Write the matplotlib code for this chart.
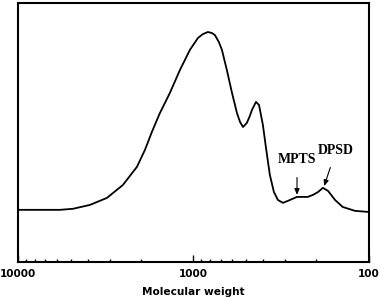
import numpy as np
import matplotlib
matplotlib.use("Agg")
import matplotlib.pyplot as plt
from matplotlib.ticker import LogLocator, NullFormatter, FixedLocator, FixedFormatter

# GPC trace: molecular weight vs detector signal (a.u.)
mol_weight = [10000, 7494, 5762, 4859, 3888, 3111, 2522, 2098, 1890, 1724,
              1552, 1361, 1194, 1047, 942, 883, 827, 785, 754, 716,
              688, 645, 603, 565, 543, 522, 496, 477, 464, 440,
              423, 402, 386, 367, 348, 330, 309, 289, 257, 223,
              208, 195, 183, 171, 156, 141, 120, 101, 100]
signal = [20.1, 20.1, 20.1, 20.5, 22.0, 24.7, 29.7, 36.7, 43.2, 50.2,
          57.5, 65.3, 74.1, 81.9, 86.5, 88.0, 88.8, 88.4, 87.6, 84.9,
          81.9, 74.1, 65.3, 57.5, 54.1, 52.1, 53.7, 56.4, 58.7, 61.8,
          60.6, 52.9, 44.0, 33.6, 27.0, 23.9, 22.8, 23.6, 25.1, 25.1,
          25.9, 27.0, 28.6, 27.4, 23.9, 21.2, 19.7, 19.3, 19.3]

tick_vals = [10000, 1000, 100]
tick_labels = ["10000", "1000", "100"]

# peak labels: (text, text centre, arrow tip)
peaks = [("MPTS", (257, 39.4), (257, 25.9)),
         ("DPSD", (154, 43.1), (180, 29.3))]

fig = plt.figure(figsize=(3.8, 3.01), dpi=100)
ax = fig.add_axes([0.047, 0.13, 0.924, 0.86])

ax.plot(mol_weight, signal, color="black", lw=1.3, solid_joinstyle="round")

ax.set_xscale("log")
ax.set_xlim(10000, 100)
ax.set_ylim(0, 100)
ax.set_yticks([])

ax.xaxis.set_major_locator(FixedLocator(tick_vals))
ax.xaxis.set_major_formatter(FixedFormatter(tick_labels))
ax.xaxis.set_minor_locator(LogLocator(base=10, subs=np.arange(2, 10)))
ax.xaxis.set_minor_formatter(NullFormatter())
ax.tick_params(axis="x", which="major", direction="in", length=5, width=1.0,
               labelsize=7.5, pad=5)
ax.tick_params(axis="x", which="minor", direction="in", length=2.5, width=1.0)
for lab in ax.get_xticklabels():
    lab.set_fontweight("bold")

for sp_ in ax.spines.values():
    sp_.set_linewidth(1.5)

ax.set_xlabel("Molecular weight", fontsize=7.6, fontweight="bold", labelpad=6)

for name, txt_xy, tip in peaks:
    ax.annotate(name, xy=tip, xytext=txt_xy, ha="center", va="center",
                fontsize=10, fontweight="bold", family="Liberation Serif",
                arrowprops=dict(arrowstyle="-|>,head_length=0.35,head_width=0.15",
                                color="black", lw=0.8, shrinkA=6, shrinkB=0))

fig.savefig("out.png", dpi=100)
